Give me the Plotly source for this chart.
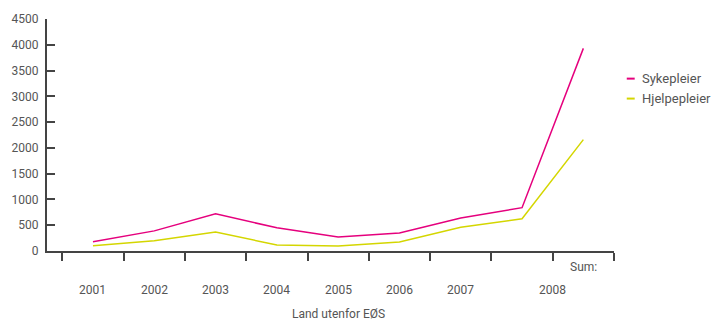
import plotly.graph_objects as go

# ---- data ----
categories = ["2001", "2002", "2003", "2004", "2005", "2006", "2007", "2008", "Sum:"]
sykepleier = [180, 390, 720, 450, 270, 350, 640, 840, 3930]
hjelpepleier = [100, 200, 370, 115, 95, 175, 460, 625, 2160]
year_labels = ["2001", "2002", "2003", "2004", "2005", "2006", "2007"]
y_ticks = [0, 500, 1000, 1500, 2000, 2500, 3000, 3500, 4000, 4500]
x_title = "Land utenfor EØS"
series_names = ["Sykepleier", "Hjelpepleier"]

PINK = "#e5007d"
YELLOW = "#d4d600"
AXIS = "#444444"
TEXT = "#555555"
FONT = "Roboto"

xpos = list(range(len(categories)))

fig = go.Figure()
fig.add_trace(go.Scatter(x=xpos, y=sykepleier, mode="lines", name=series_names[0],
                         line=dict(color=PINK, width=1.5), showlegend=False))
fig.add_trace(go.Scatter(x=xpos, y=hjelpepleier, mode="lines", name=series_names[1],
                         line=dict(color=YELLOW, width=1.5), showlegend=False))

boundaries = [i - 0.5 for i in range(len(categories) + 1)]

fig.update_layout(
    width=713, height=321,
    margin=dict(l=45, r=99, t=17, b=70, pad=0),
    paper_bgcolor="white", plot_bgcolor="white",
    font=dict(family=FONT, size=12, color=TEXT),
    xaxis=dict(range=[-0.75, 8.5], tickvals=boundaries, showticklabels=False,
               ticks="outside", ticklen=8, tickwidth=2, tickcolor=AXIS,
               showline=True, linewidth=2, linecolor=AXIS, showgrid=False,
               zeroline=False, fixedrange=True),
    yaxis=dict(range=[0, 4500], tickvals=y_ticks, ticks="inside", ticklen=8,
               tickwidth=2, tickcolor=AXIS, showline=True, linewidth=2,
               linecolor=AXIS, showgrid=False, zeroline=False,
               tickfont=dict(family=FONT, size=12, color=TEXT),
               ticklabelstandoff=4, fixedrange=True),
)

annotations = []
for i, lab in enumerate(year_labels):
    annotations.append(dict(x=i, y=0, xref="x", yref="y", text=lab, showarrow=False,
                            yshift=-38.5, xanchor="center", yanchor="middle",
                            font=dict(family=FONT, size=12, color=TEXT)))
# 2008 label sits under the boundary tick, "Sum:" just under the axis
annotations.append(dict(x=7.5, y=0, xref="x", yref="y", text=categories[7], showarrow=False,
                        yshift=-38.5, xanchor="center", yanchor="middle",
                        font=dict(family=FONT, size=12, color=TEXT)))
annotations.append(dict(x=8, y=0, xref="x", yref="y", text=categories[8], showarrow=False,
                        yshift=-15.5, xanchor="center", yanchor="middle",
                        font=dict(family=FONT, size=12, color=TEXT)))
annotations.append(dict(x=0.514, y=0, xref="paper", yref="paper", text=x_title,
                        showarrow=False, yshift=-62.5, xanchor="center", yanchor="middle",
                        font=dict(family=FONT, size=12, color=TEXT)))

# custom legend
legend_y = [0.743, 0.657]
legend_colors = [PINK, YELLOW]
shapes = []
for name, yy, col in zip(series_names, legend_y, legend_colors):
    shapes.append(dict(type="line", xref="paper", yref="paper", x0=1.0225, x1=1.0365,
                       y0=yy, y1=yy, line=dict(color=col, width=2)))
    annotations.append(dict(x=1.046, y=yy, xref="paper", yref="paper", text=name,
                            showarrow=False, xanchor="left", yanchor="middle",
                            font=dict(family=FONT, size=13, color=TEXT)))

fig.update_layout(annotations=annotations, shapes=shapes)

fig.write_html("out.html")
